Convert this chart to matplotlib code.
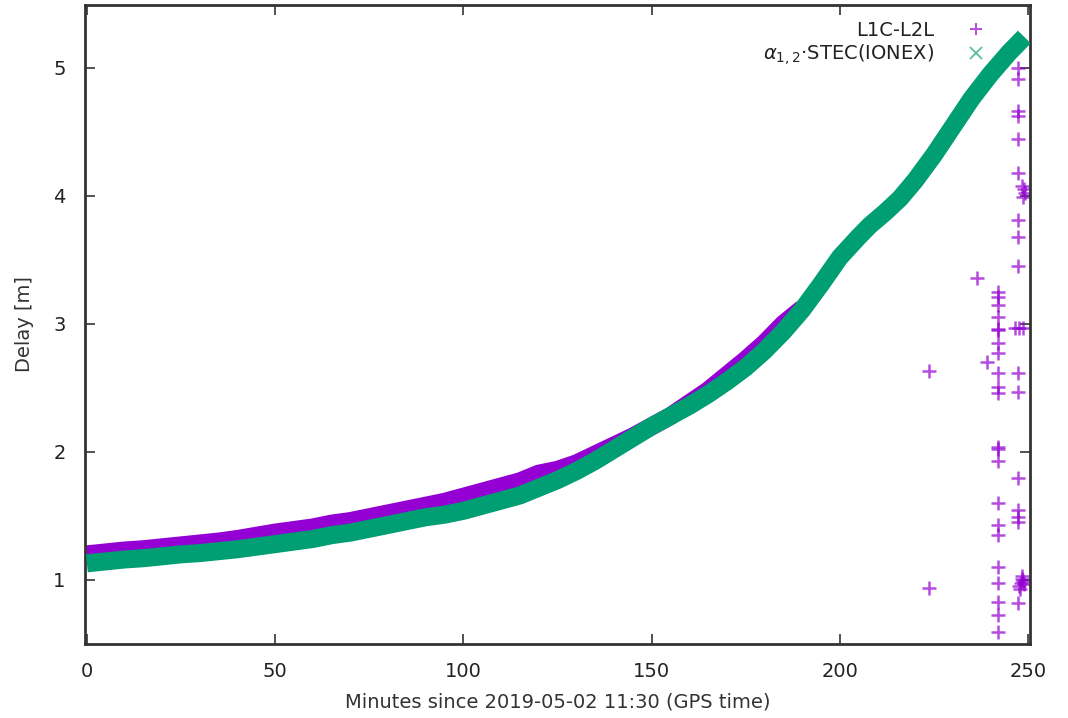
import matplotlib
matplotlib.use("Agg")
import matplotlib.pyplot as plt
from matplotlib.lines import Line2D

# ---- data ----
minutes_l1l2 = [0, 5, 10, 15, 20, 25, 30, 35, 40, 45, 50, 55, 60, 65, 70, 75, 80, 85, 90, 95,
                100, 105, 110, 115, 120, 125, 130, 135, 140, 145, 150, 155, 160, 165, 170, 175,
                180, 185, 190]
delay_l1l2 = [1.20, 1.215, 1.23, 1.24, 1.255, 1.27, 1.285, 1.30, 1.32, 1.345, 1.37, 1.39, 1.41,
              1.44, 1.46, 1.49, 1.52, 1.55, 1.58, 1.61, 1.65, 1.69, 1.73, 1.77, 1.83, 1.86, 1.91,
              1.98, 2.05, 2.12, 2.20, 2.28, 2.38, 2.48, 2.60, 2.72, 2.85, 3.00, 3.12]

# scattered L1C-L2L outliers near the end of the arc
out_minutes = [223.6, 223.6, 236.4, 239.0,
               242.0, 242.0, 242.0, 242.0, 242.0, 242.0, 242.0, 242.0, 242.0, 242.0, 242.0,
               242.0, 242.0, 242.0, 242.0, 242.0, 242.0, 242.0, 242.0, 242.0, 242.0, 242.0,
               247.3, 247.3, 247.3, 247.3, 247.3, 247.3, 248.3, 248.8, 249.2, 248.6,
               247.3, 247.3, 247.3, 246.6, 247.6, 248.6, 247.3, 247.3, 247.3, 247.3, 247.3,
               247.3, 247.6, 248.0, 248.4, 248.8, 247.8, 248.3, 248.7, 247.3]
out_delay = [2.63, 0.94, 3.36, 2.70,
             3.25, 3.21, 3.15, 3.05, 2.96, 2.95, 2.85, 2.77, 2.62, 2.51, 2.46, 2.04, 2.02,
             1.93, 1.60, 1.43, 1.35, 1.10, 0.98, 0.83, 0.73, 0.59,
             5.00, 4.91, 4.66, 4.62, 4.44, 4.18, 4.08, 4.05, 4.02, 3.99,
             3.81, 3.68, 3.45, 2.97, 2.97, 2.97, 2.62, 2.47, 1.80, 1.55, 1.49,
             1.45, 0.95, 0.98, 1.01, 0.97, 0.93, 1.03, 0.99, 0.82]

minutes_ionex = [0, 5, 10, 15, 20, 25, 30, 35, 40, 45, 50, 55, 60, 65, 70, 75, 80, 85, 90, 95,
                 100, 105, 110, 115, 120, 125, 130, 135, 140, 145, 150, 155, 160, 165, 170, 175,
                 180, 185, 190, 195, 200, 205, 208, 212, 216, 220, 225, 230, 235, 240, 245, 249]
delay_ionex = [1.13, 1.145, 1.16, 1.17, 1.185, 1.20, 1.21, 1.225, 1.24, 1.26, 1.28, 1.30, 1.32,
               1.35, 1.37, 1.40, 1.43, 1.46, 1.49, 1.51, 1.54, 1.58, 1.62, 1.66, 1.72, 1.78, 1.85,
               1.93, 2.02, 2.11, 2.20, 2.28, 2.36, 2.45, 2.55, 2.66, 2.79, 2.94, 3.11, 3.31, 3.52,
               3.68, 3.77, 3.87, 3.98, 4.12, 4.32, 4.54, 4.76, 4.95, 5.12, 5.24]

xticks = [0, 50, 100, 150, 200, 250]
yticks = [1, 2, 3, 4, 5]

purple = "#9400d3"
green = "#009e73"
FS = 14

plt.rcParams['font.family'] = ['DejaVu Sans']
fig = plt.figure(figsize=(10.68, 7.18), dpi=100)
ax = fig.add_axes([85 / 1068, 74 / 718, 945 / 1068, 639 / 718])

ax.plot(minutes_l1l2, delay_l1l2, color=purple, lw=13, solid_capstyle='butt', zorder=2)
ax.plot(out_minutes, out_delay, linestyle='none', marker='+', markersize=9.5, mew=1.8,
        color=purple, alpha=0.7, zorder=2)
ax.plot(minutes_ionex, delay_ionex, color=green, lw=13, solid_capstyle='butt', zorder=3)

ax.set_xlim(-0.5, 250.5)
ax.set_ylim(0.5, 5.49)
ax.set_xticks(xticks)
ax.set_yticks(yticks)
ax.tick_params(direction='in', length=7, width=1.2, top=True, right=True,
               labelsize=FS, colors='#333333', labelcolor='#222222')
ax.tick_params(axis='x', pad=13)
ax.tick_params(axis='y', pad=14)
for s in ax.spines.values():
    s.set_linewidth(2)
    s.set_color('#333333')

ax.set_xlabel('Minutes since 2019-05-02 11:30 (GPS time)', fontsize=FS, color='#333333',
              labelpad=8)
ax.set_ylabel('Delay [m]', fontsize=FS, color='#333333', labelpad=14)

handles = [Line2D([], [], linestyle='none', marker='+', color=purple, markersize=9, mew=1.4, alpha=0.7),
           Line2D([], [], linestyle='none', marker='x', color=green, markersize=8, mew=1.2, alpha=0.7)]
labels = ['L1C-L2L', r'$\alpha_{1,2}$·STEC(IONEX)']
leg = ax.legend(handles, labels, loc='upper right', bbox_to_anchor=(0.975, 0.999), frameon=False,
                markerfirst=False, fontsize=FS, handlelength=1.5, handletextpad=1.4,
                labelspacing=0.1, borderaxespad=0.4)
for t in leg.get_texts():
    t.set_ha('right')
    t.set_color('#222222')
leg._legend_box.align = 'right'

fig.savefig('out.png', dpi=100)
